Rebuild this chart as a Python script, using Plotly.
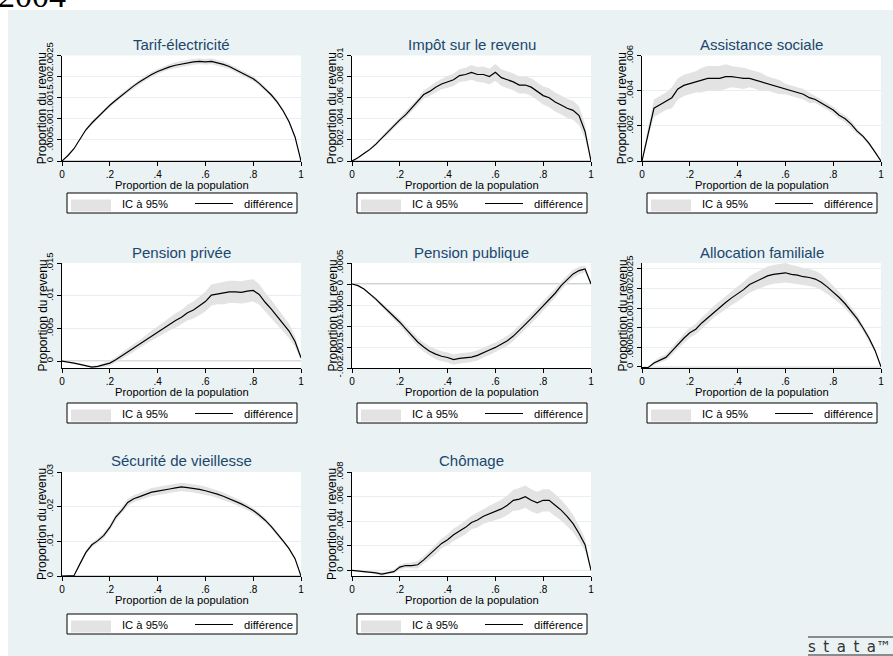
import plotly.graph_objects as go

# ---------------------------------------------------------------------------
# Data: population share (x) and the difference curve with its 95% half-width
# ---------------------------------------------------------------------------
POP = [0, 0.025, 0.05, 0.075, 0.1, 0.125, 0.15, 0.175, 0.2, 0.225, 0.25,
       0.275, 0.3, 0.325, 0.35, 0.375, 0.4, 0.425, 0.45, 0.475, 0.5,
       0.525, 0.55, 0.575, 0.6, 0.625, 0.65, 0.675, 0.7, 0.725, 0.75,
       0.775, 0.8, 0.825, 0.85, 0.875, 0.9, 0.925, 0.95, 0.975, 1]

X_TICKS = [0, 0.2, 0.4, 0.6, 0.8, 1]
X_LABELS = ["0", ".2", ".4", ".6", ".8", "1"]

TARIF_DIFF = [0, 0.00013, 0.00029, 0.00052, 0.00074, 0.00090, 0.00104, 0.00119,
              0.00132, 0.00144, 0.00156, 0.00167, 0.00178, 0.00188, 0.00197,
              0.00205, 0.00212, 0.00218, 0.00223, 0.00227, 0.00230, 0.00233,
              0.00235, 0.00236, 0.00235, 0.00236, 0.00233, 0.00229, 0.00224,
              0.00217, 0.00210, 0.00202, 0.00195, 0.00184, 0.00171, 0.00157,
              0.00140, 0.00119, 0.00093, 0.00057, 0]
TARIF_HW = [0, 0.00001, 0.00002, 0.00003, 0.00003, 0.00004, 0.00004, 0.00004,
            0.00005, 0.00005, 0.00005, 0.00005, 0.00005, 0.00006, 0.00006,
            0.00006, 0.00006, 0.00006, 0.00006, 0.00007, 0.00007, 0.00007,
            0.00007, 0.00007, 0.00007, 0.00007, 0.00007, 0.00007, 0.00006,
            0.00006, 0.00006, 0.00006, 0.00006, 0.00005, 0.00005, 0.00005,
            0.00005, 0.00004, 0.00004, 0.00003, 0]
TARIF_YTICKS = [0, 0.0005, 0.001, 0.0015, 0.002, 0.0025]
TARIF_YLABELS = ["0", ".0005", ".001", ".0015", ".002", ".0025"]

IMPOT_DIFF = [0, 0.0003, 0.0007, 0.0011, 0.0016, 0.0022, 0.0027, 0.0033, 0.0039,
              0.0044, 0.0050, 0.0056, 0.0063, 0.0066, 0.0070, 0.0073, 0.0075,
              0.0077, 0.0081, 0.0082, 0.0084, 0.0082, 0.0082, 0.0080, 0.0084,
              0.0079, 0.0077, 0.0075, 0.0072, 0.0072, 0.0070, 0.0066, 0.0062,
              0.0060, 0.0056, 0.0053, 0.0050, 0.0048, 0.0043, 0.0028, 0]
IMPOT_HW = [0, 0.00005, 0.0001, 0.0001, 0.00015, 0.00015, 0.0002, 0.0002,
            0.00025, 0.0003, 0.0003, 0.00035, 0.0004, 0.00045, 0.0005, 0.0005,
            0.00055, 0.0006, 0.0006, 0.00065, 0.0007, 0.0007, 0.00075, 0.00075,
            0.0008, 0.0008, 0.0008, 0.0008, 0.0008, 0.0008, 0.00085, 0.00085,
            0.00085, 0.0009, 0.0009, 0.0009, 0.0009, 0.0009, 0.0009, 0.0007, 0]
IMPOT_YTICKS = [0, 0.002, 0.004, 0.006, 0.008, 0.01]
IMPOT_YLABELS = ["0", ".002", ".004", ".006", ".008", ".01"]

ASSIST_DIFF = [0, 0.0016, 0.0030, 0.0032, 0.0034, 0.0036, 0.0041, 0.0043, 0.0044,
               0.0045, 0.0046, 0.0047, 0.0047, 0.0047, 0.0048, 0.0048, 0.00475,
               0.0047, 0.0047, 0.0046, 0.0045, 0.0044, 0.0043, 0.0042, 0.0041,
               0.0040, 0.0039, 0.0038, 0.0036, 0.0035, 0.0033, 0.0031, 0.0029,
               0.0026, 0.0024, 0.0021, 0.0017, 0.0014, 0.0010, 0.0005, 0]
ASSIST_HW = [0, 0.0003, 0.0005, 0.0005, 0.0005, 0.0006, 0.0006, 0.0006, 0.0006,
             0.0006, 0.0007, 0.0007, 0.0007, 0.0007, 0.0007, 0.0006, 0.0006,
             0.0006, 0.0005, 0.0005, 0.0005, 0.0004, 0.0004, 0.0004, 0.0003,
             0.0003, 0.0003, 0.0003, 0.0003, 0.0002, 0.0002, 0.0002, 0.0002,
             0.0002, 0.0002, 0.0002, 0.00015, 0.0001, 0.0001, 0.00005, 0]
ASSIST_YTICKS = [0, 0.002, 0.004, 0.006]
ASSIST_YLABELS = ["0", ".002", ".004", ".006"]

PRIVEE_DIFF = [0, -0.0001, -0.0003, -0.0005, -0.0007, -0.0009, -0.0008, -0.0006,
               -0.0003, 0.0002, 0.0008, 0.0014, 0.0020, 0.0026, 0.0033, 0.0039,
               0.0045, 0.0051, 0.0057, 0.0062, 0.0067, 0.0074, 0.0078, 0.0084,
               0.0091, 0.0101, 0.0103, 0.0104, 0.0106, 0.0106, 0.0105, 0.0107,
               0.0108, 0.0102, 0.0090, 0.0080, 0.0069, 0.0057, 0.0046, 0.0030,
               0.0005]
PRIVEE_HW = [0, 0.00005, 0.0001, 0.0001, 0.0001, 0.00015, 0.0002, 0.0003, 0.0004,
             0.0004, 0.0005, 0.0005, 0.0006, 0.0006, 0.0007, 0.0008, 0.0008,
             0.0009, 0.0010, 0.0011, 0.0011, 0.0012, 0.0013, 0.0014, 0.0015,
             0.0016, 0.0016, 0.0017, 0.0017, 0.0017, 0.0017, 0.0017, 0.0017,
             0.0016, 0.0015, 0.0014, 0.0013, 0.0012, 0.0011, 0.0008, 0.0003]
PRIVEE_YTICKS = [0, 0.005, 0.01, 0.015]
PRIVEE_YLABELS = ["0", ".005", ".01", ".015"]

PUBLIQUE_DIFF = [0, -0.00004, -0.00012, -0.00023, -0.00036, -0.00050, -0.00063,
                 -0.00077, -0.00091, -0.00107, -0.00123, -0.00138, -0.00150,
                 -0.00160, -0.00167, -0.00172, -0.00175, -0.00180, -0.00177,
                 -0.00175, -0.00174, -0.00170, -0.00163, -0.00157, -0.00151,
                 -0.00143, -0.00135, -0.00124, -0.00111, -0.00096, -0.00082,
                 -0.00067, -0.00052, -0.00038, -0.00022, -0.00004, 0.00011,
                 0.00024, 0.00032, 0.00036, 0]
PUBLIQUE_HW = [0, 0.00001, 0.00002, 0.00003, 0.00004, 0.00005, 0.00006, 0.00007,
               0.00008, 0.00009, 0.0001, 0.0001, 0.00011, 0.00011, 0.00012,
               0.00012, 0.00012, 0.00012, 0.00012, 0.00012, 0.00012, 0.00012,
               0.00012, 0.00012, 0.00012, 0.00012, 0.00012, 0.00012, 0.00012,
               0.00012, 0.00012, 0.00012, 0.00012, 0.00011, 0.00011, 0.0001,
               0.0001, 0.0001, 0.00009, 0.00008, 0]
PUBLIQUE_YTICKS = [-0.002, -0.0015, -0.001, -0.0005, 0, 0.0005]
PUBLIQUE_YLABELS = ["-.002", "-.0015", "-.001", "-.0005", "0", ".0005"]

FAMILLE_DIFF = [-0.00002, -0.00002, 0.0001, 0.00018, 0.00024, 0.00040, 0.00057,
                0.00073, 0.00087, 0.00096, 0.00112, 0.00125, 0.00140, 0.00152,
                0.00164, 0.00176, 0.00186, 0.00197, 0.00210, 0.00218, 0.00226,
                0.00232, 0.00236, 0.00238, 0.00240, 0.00236, 0.00234, 0.00230,
                0.00228, 0.00224, 0.00216, 0.00204, 0.00191, 0.00177, 0.00161,
                0.00143, 0.00123, 0.00099, 0.00073, 0.00042, 0]
FAMILLE_HW = [0.00001, 0.00001, 0.00005, 0.00007, 0.00008, 0.0001, 0.00011,
              0.00012, 0.00013, 0.00013, 0.00014, 0.00014, 0.00015, 0.00016,
              0.00017, 0.00018, 0.00019, 0.0002, 0.00021, 0.00022, 0.00023,
              0.00024, 0.00024, 0.00025, 0.00025, 0.00024, 0.00023, 0.00022,
              0.00022, 0.00021, 0.0002, 0.00018, 0.00016, 0.00014, 0.00012,
              0.00011, 0.0001, 0.00008, 0.00007, 0.00005, 0]
FAMILLE_YTICKS = [0, 0.0005, 0.001, 0.0015, 0.002, 0.0025]
FAMILLE_YLABELS = ["0", ".0005", ".001", ".0015", ".002", ".0025"]

VIEILLESSE_DIFF = [0, 0, 0.0001, 0.0035, 0.0068, 0.0090, 0.0102, 0.0117, 0.0140,
                   0.0170, 0.0189, 0.0212, 0.0223, 0.0229, 0.0236, 0.0242, 0.0245,
                   0.0249, 0.0251, 0.0254, 0.0257, 0.0255, 0.0253, 0.0250, 0.0246,
                   0.0242, 0.0236, 0.0230, 0.0223, 0.0216, 0.0208, 0.0199, 0.0189,
                   0.0176, 0.0161, 0.0143, 0.0123, 0.0101, 0.0079, 0.0050, 0]
VIEILLESSE_HW = [0, 0, 0, 0.0003, 0.0005, 0.0006, 0.0007, 0.0008, 0.0008, 0.0009,
                 0.0009, 0.0010, 0.0010, 0.0011, 0.0011, 0.0012, 0.0012, 0.0012,
                 0.0012, 0.0012, 0.0012, 0.0012, 0.0012, 0.0012, 0.0012, 0.0011,
                 0.0011, 0.0011, 0.0010, 0.0010, 0.0009, 0.0009, 0.0008, 0.0008,
                 0.0007, 0.0006, 0.0006, 0.0005, 0.0004, 0.0003, 0]
VIEILLESSE_YTICKS = [0, 0.01, 0.02, 0.03]
VIEILLESSE_YLABELS = ["0", ".01", ".02", ".03"]

CHOMAGE_DIFF = [0, -0.00005, -0.0001, -0.0001, -0.0002, -0.0003, -0.0002, -0.0001,
                0.00027, 0.0004, 0.0004, 0.00046, 0.00086, 0.0013, 0.0017, 0.0022,
                0.0025, 0.0029, 0.0032, 0.0035, 0.0039, 0.0041, 0.0044, 0.0046,
                0.0048, 0.0050, 0.0053, 0.0057, 0.0058, 0.0060, 0.0057, 0.0055,
                0.0057, 0.0057, 0.0053, 0.0049, 0.0044, 0.0038, 0.0030, 0.0021, 0]
CHOMAGE_HW = [0, 0.00008, 0.0001, 0.0001, 0.0001, 0.00015, 0.0001, 0.00015, 0.0002,
              0.0002, 0.00025, 0.0003, 0.0003, 0.00035, 0.0004, 0.0004, 0.00045,
              0.0005, 0.0005, 0.00055, 0.00055, 0.0006, 0.0006, 0.00065, 0.0007,
              0.00075, 0.0008, 0.00085, 0.0009, 0.0009, 0.0009, 0.0009, 0.0009,
              0.0009, 0.0009, 0.00085, 0.0008, 0.0007, 0.0006, 0.0005, 0]
CHOMAGE_YTICKS = [0, 0.002, 0.004, 0.006, 0.008]
CHOMAGE_YLABELS = ["0", ".002", ".004", ".006", ".008"]

PANELS = [
    ("Tarif-électricité", TARIF_DIFF, TARIF_HW, TARIF_YTICKS, TARIF_YLABELS),
    ("Impôt sur le revenu", IMPOT_DIFF, IMPOT_HW, IMPOT_YTICKS, IMPOT_YLABELS),
    ("Assistance sociale", ASSIST_DIFF, ASSIST_HW, ASSIST_YTICKS, ASSIST_YLABELS),
    ("Pension privée", PRIVEE_DIFF, PRIVEE_HW, PRIVEE_YTICKS, PRIVEE_YLABELS),
    ("Pension publique", PUBLIQUE_DIFF, PUBLIQUE_HW, PUBLIQUE_YTICKS, PUBLIQUE_YLABELS),
    ("Allocation familiale", FAMILLE_DIFF, FAMILLE_HW, FAMILLE_YTICKS, FAMILLE_YLABELS),
    ("Sécurité de vieillesse", VIEILLESSE_DIFF, VIEILLESSE_HW, VIEILLESSE_YTICKS, VIEILLESSE_YLABELS),
    ("Chômage", CHOMAGE_DIFF, CHOMAGE_HW, CHOMAGE_YTICKS, CHOMAGE_YLABELS),
]

for _name, _d, _h, _t, _l in PANELS:
    assert len(_d) == len(POP) and len(_h) == len(POP), _name

# ---------------------------------------------------------------------------
# Page geometry (pixels) and styling
# ---------------------------------------------------------------------------
W, H = 893, 656
BG = "#eaf2f3"
GRID = "#e6eff1"
BAND = "#e3e3e3"
NAVY = "#1a476f"
FONT = "Liberation Sans, Arial, sans-serif"

COL_LEFT = [62, 352, 642]
PLOT_W = 239
ROW_TOP = [55.5, 263, 472]
ROW_BOTTOM = [161, 368, 576]
TITLE_MID = [44, 252, 460]
LEGEND_TOP = [193, 403, 614]


def fx(px):
    return px / W


def fy(py):
    return 1 - py / H


fig = go.Figure()
shapes = []
annotations = []
axes = {}

# white page strip around the graph region
shapes.append(dict(type="rect", xref="paper", yref="paper", x0=0, x1=1,
                   y0=fy(10), y1=1, fillcolor="white", line=dict(width=0),
                   layer="below"))
shapes.append(dict(type="rect", xref="paper", yref="paper", x0=0, x1=fx(8),
                   y0=0, y1=1, fillcolor="white", line=dict(width=0),
                   layer="below"))

for k, (title, diff, hw, yticks, ylabels) in enumerate(PANELS):
    r, c = divmod(k, 3)
    sfx = "" if k == 0 else str(k + 1)
    xr, yr = "x" + sfx, "y" + sfx
    upper = [d + h for d, h in zip(diff, hw)]
    lower = [d - h for d, h in zip(diff, hw)]

    fig.add_trace(go.Scatter(
        x=POP + POP[::-1], y=upper + lower[::-1], fill="toself",
        fillcolor=BAND, line=dict(width=0), mode="lines",
        hoverinfo="skip", showlegend=False, xaxis=xr, yaxis=yr))
    fig.add_trace(go.Scatter(
        x=POP, y=diff, mode="lines", line=dict(color="black", width=1.2),
        showlegend=False, xaxis=xr, yaxis=yr))

    y_lo = min(min(lower), yticks[0])
    y_hi = max(max(upper), yticks[-1])
    left = COL_LEFT[c]
    top, bot = ROW_TOP[r], ROW_BOTTOM[r]

    axes["xaxis" + sfx] = dict(
        domain=[fx(left), fx(left + PLOT_W)], range=[0, 1], anchor=yr,
        automargin=False,
        tickmode="array", tickvals=X_TICKS, ticktext=X_LABELS,
        ticks="outside", ticklen=4, tickcolor="black", tickwidth=1,
        showline=True, linecolor="black", linewidth=1,
        showgrid=False, zeroline=False,
        tickfont=dict(size=10, color="black", family=FONT))
    axes["yaxis" + sfx] = dict(
        domain=[fy(bot), fy(top)], range=[y_lo, y_hi], anchor=xr,
        automargin=False,
        tickmode="array", tickvals=yticks, ticktext=ylabels, tickangle=-90,
        ticks="outside", ticklen=4, tickcolor="black", tickwidth=1,
        showline=True, linecolor="black", linewidth=1,
        showgrid=True, gridcolor=GRID, gridwidth=1, zeroline=False,
        tickfont=dict(size=9.5, color="black", family=FONT))

    # reference line at zero
    shapes.append(dict(type="line", xref=xr + " domain", yref=yr,
                       x0=0, x1=1, y0=0, y1=0,
                       line=dict(color="#a0a0a0", width=1), layer="below"))

    cx = left + PLOT_W / 2
    annotations.append(dict(text=title, x=fx(cx), y=fy(TITLE_MID[r]),
                            xref="paper", yref="paper", xanchor="center",
                            yanchor="middle", showarrow=False,
                            font=dict(size=15, color=NAVY, family=FONT)))
    annotations.append(dict(text="Proportion du revenu", x=fx(left - 20),
                            y=fy((top + bot) / 2), xref="paper", yref="paper",
                            xanchor="center", yanchor="middle", textangle=-90,
                            showarrow=False,
                            font=dict(size=12, color="black", family=FONT)))
    annotations.append(dict(text="Proportion de la population", x=fx(cx),
                            y=fy(bot + 23.5), xref="paper", yref="paper",
                            xanchor="center", yanchor="middle", showarrow=False,
                            font=dict(size=11.2, color="black", family=FONT)))

    # per-panel legend box
    lt = LEGEND_TOP[r]
    shapes.append(dict(type="rect", xref="paper", yref="paper",
                       x0=fx(left + 5), x1=fx(left + 235),
                       y0=fy(lt + 20), y1=fy(lt), fillcolor="white",
                       line=dict(color="black", width=1)))
    shapes.append(dict(type="rect", xref="paper", yref="paper",
                       x0=fx(left + 9), x1=fx(left + 49),
                       y0=fy(lt + 18.5), y1=fy(lt + 6.5), fillcolor=BAND,
                       line=dict(width=0)))
    shapes.append(dict(type="line", xref="paper", yref="paper",
                       x0=fx(left + 133), x1=fx(left + 171),
                       y0=fy(lt + 10.5), y1=fy(lt + 10.5),
                       line=dict(color="black", width=1.2)))
    annotations.append(dict(text="IC à 95%", x=fx(left + 58), y=fy(lt + 10.5),
                            xref="paper", yref="paper", xanchor="left",
                            yanchor="middle", showarrow=False,
                            font=dict(size=11.2, color="black", family=FONT)))
    annotations.append(dict(text="différence", x=fx(left + 233), y=fy(lt + 10.5),
                            xref="paper", yref="paper", xanchor="right",
                            yanchor="middle", showarrow=False,
                            font=dict(size=11.2, color="black", family=FONT)))

# year heading, partly above the page edge
annotations.append(dict(text="2004", x=fx(-4), y=fy(-4), xref="paper",
                        yref="paper", xanchor="left", yanchor="middle",
                        showarrow=False,
                        font=dict(size=34, color="black",
                                  family="Liberation Serif, DejaVu Serif, serif")))

# software mark in the lower right corner
annotations.append(dict(text="s\u2002t\u2002a\u2002t\u2002a\u2122", x=fx(806),
                        y=fy(646.5), xref="paper", yref="paper",
                        xanchor="left", yanchor="middle", showarrow=False,
                        font=dict(size=15, color="#333333",
                                  family="DejaVu Sans, sans-serif")))
for ly in (637, 655):
    shapes.append(dict(type="line", xref="paper", yref="paper",
                       x0=fx(808), x1=1, y0=fy(ly), y1=fy(ly),
                       line=dict(color="#6a6a6a", width=1.5)))

fig.update_layout(
    template="none",
    width=W, height=H, autosize=False,
    margin=dict(l=0, r=0, t=0, b=0, pad=0, autoexpand=False),
    paper_bgcolor=BG, plot_bgcolor="white",
    showlegend=False,
    shapes=shapes, annotations=annotations,
    font=dict(family=FONT, color="black"),
    **axes)

fig.write_html("out.html")
